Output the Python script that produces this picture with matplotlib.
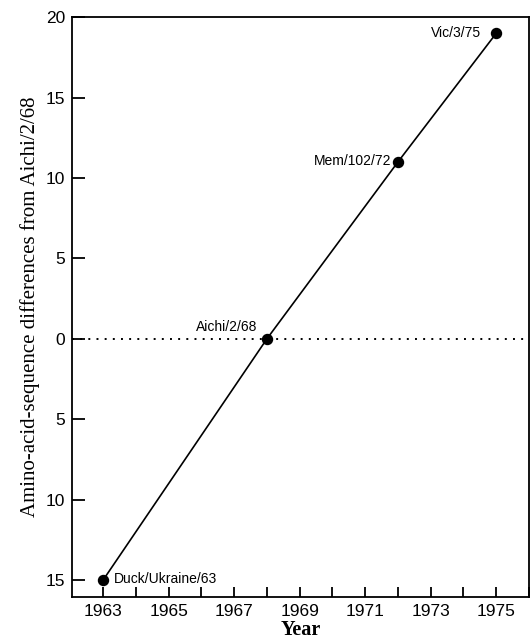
import matplotlib
matplotlib.use("Agg")
import matplotlib.pyplot as plt
from matplotlib.ticker import FuncFormatter, MultipleLocator

# strains, year isolated, difference from Aichi/2/68 (below 0 = older strain)
strains = ["Duck/Ukraine/63", "Aichi/2/68", "Mem/102/72", "Vic/3/75"]
years = [1963, 1968, 1972, 1975]
diffs = [-15, 0, 11, 19]

label_offsets = [(8, 1), (-7, 3.5), (-5, 0.5), (-11, 0.5)]
label_align = [("left", "center"), ("right", "bottom"), ("right", "center"), ("right", "center")]

fig = plt.figure(figsize=(5.3, 6.39), dpi=100)
ax = fig.add_axes([0.136, 0.066, 0.862, 0.907])

ax.axhline(0, color="black", lw=1.4, ls=(0, (1, 3.2)), zorder=1)
ax.plot(years, diffs, color="black", lw=1.2, marker="o", ms=7.2, zorder=3)

for name, x, y, off, (ha, va) in zip(strains, years, diffs, label_offsets, label_align):
    ax.annotate(name, (x, y), xytext=off, textcoords="offset points",
                ha=ha, va=va, fontsize=10, family="Liberation Sans")

ax.set_xlim(1962.05, 1976)
ax.set_ylim(-16.05, 20)

ax.xaxis.set_major_locator(MultipleLocator(2, offset=1))
ax.xaxis.set_minor_locator(MultipleLocator(1))
ax.yaxis.set_major_locator(MultipleLocator(5))
ax.yaxis.set_major_formatter(FuncFormatter(lambda v, p: "%d" % abs(v)))

ax.tick_params(axis="both", which="both", direction="in", width=1.3,
               labelsize=12.5, top=False, right=False)
ax.tick_params(axis="x", which="both", length=7, pad=5)
ax.tick_params(axis="y", which="both", length=9, pad=5)
for lab in ax.get_xticklabels() + ax.get_yticklabels():
    lab.set_family("Liberation Sans")

for s in ax.spines.values():
    s.set_linewidth(1.3)

ax.set_xlabel("Year", family="Liberation Serif", fontsize=14.5, fontweight="bold", labelpad=1)
ax.set_ylabel("Amino-acid-sequence differences from Aichi/2/68",
              family="Liberation Serif", fontsize=15, labelpad=4)

fig.savefig("out.png", dpi=100)
